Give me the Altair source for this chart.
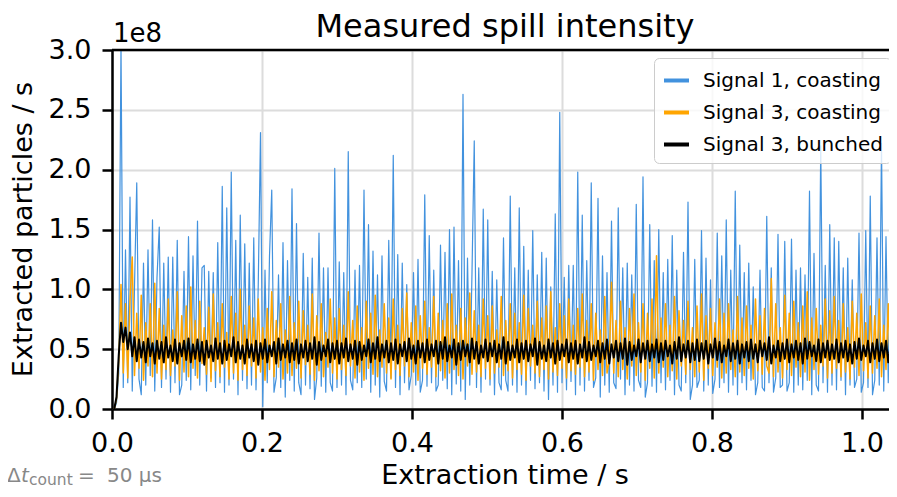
import altair as alt
import numpy as np
import pandas as pd

# ---------------- data ----------------
NAMES = ["Signal 1, coasting", "Signal 3, coasting", "Signal 3, bunched"]
COLORS = ["#4292DE", "#FFA500", "#000000"]
X_TICKS = [0.0, 0.2, 0.4, 0.6, 0.8, 1.0]
Y_TICKS = [0.0, 0.5, 1.0, 1.5, 2.0, 2.5, 3.0]
X_MAX = 1.036           # s, right edge of the visible axis
T_STEP = 0.003          # s, spacing of the digitised points
# values in units of 1e6 particles / s
BLUE = [
    0, 5, 30, 305, 18, 133, 22, 177, 15, 102, 189, 25, 12, 122, 20, 133, 28, 158, 15, 110,
    152, 18, 122, 25, 127, 14, 127, 22, 141, 12, 20, 115, 24, 144, 16, 128, 28, 157, 20, 118,
    120, 15, 115, 26, 114, 18, 139, 22, 186, 14, 168, 20, 198, 25, 141, 12, 162, 24, 138, 17,
    122, 20, 143, 16, 104, 231, 2, 116, 22, 128, 183, 14, 26, 112, 18, 139, 10, 124, 24, 184,
    15, 155, 22, 12, 130, 20, 110, 17, 126, 8, 26, 147, 19, 118, 14, 118, 22, 15, 201, 18,
    123, 20, 114, 12, 215, 24, 16, 116, 22, 120, 18, 183, 25, 154, 14, 132, 20, 112, 10, 128,
    23, 15, 141, 26, 212, 18, 129, 12, 122, 22, 104, 16, 28, 114, 20, 125, 14, 24, 179, 19,
    145, 22, 116, 15, 20, 137, 24, 131, 17, 150, 12, 152, 21, 124, 15, 263, 8, 126, 20, 114,
    224, 18, 118, 14, 167, 25, 158, 20, 115, 12, 108, 22, 16, 143, 24, 15, 178, 20, 118, 14,
    168, 20, 136, 12, 116, 24, 149, 17, 112, 22, 131, 15, 126, 8, 102, 20, 163, 14, 248, 22,
    110, 16, 120, 23, 120, 12, 198, 20, 162, 15, 124, 24, 189, 18, 26, 176, 10, 128, 20, 114,
    14, 157, 22, 17, 168, 25, 118, 12, 122, 20, 112, 15, 171, 24, 18, 194, 10, 22, 154, 19,
    124, 14, 150, 22, 114, 16, 125, 24, 145, 12, 116, 20, 15, 131, 22, 173, 8, 20, 125, 18,
    24, 149, 15, 126, 20, 108, 13, 25, 147, 18, 128, 22, 158, 14, 116, 20, 182, 12, 137, 22,
    114, 16, 122, 24, 102, 12, 22, 116, 18, 15, 161, 22, 118, 14, 26, 146, 18, 20, 140, 15,
    22, 142, 14, 116, 20, 118, 16, 112, 24, 182, 12, 130, 20, 15, 220, 22, 120, 14, 154, 20,
    143, 16, 140, 24, 118, 12, 126, 20, 108, 18, 25, 147, 14, 22, 149, 18, 178, 12, 24, 143,
    20, 222, 15, 144, 22, 124, 14, 114, 25,
]
ORANGE = [
    0, 8, 40, 104, 30, 88, 26, 92, 127, 28, 80, 34, 95, 24, 72, 36, 88, 27, 105, 30,
    84, 25, 70, 33, 92, 28, 66, 36, 98, 24, 78, 31, 86, 27, 102, 34, 74, 26, 90, 38,
    68, 29, 85, 23, 96, 32, 72, 27, 88, 35, 64, 25, 94, 30, 80, 24, 100, 33, 70, 28,
    86, 36, 76, 26, 92, 31, 68, 24, 84, 33, 98, 27, 74, 35, 88, 25, 66, 30, 94, 28,
    72, 34, 90, 26, 82, 37, 70, 29, 96, 24, 78, 32, 88, 27, 64, 35, 92, 30, 76, 25,
    84, 33, 70, 28, 98, 36, 74, 26, 86, 31, 68, 24, 90, 34, 80, 29, 95, 27, 66, 35,
    88, 30, 76, 25, 92, 33, 70, 28, 84, 36, 97, 27, 72, 31, 86, 24, 78, 34, 90, 29,
    68, 35, 94, 27, 80, 32, 74, 26, 88, 30, 96, 33, 70, 28, 84, 25, 76, 36, 97, 29,
    82, 31, 70, 27, 92, 34, 78, 25, 86, 30, 66, 35, 94, 28, 74, 32, 88, 26, 80, 33,
    72, 29, 95, 24, 84, 36, 70, 30, 90, 27, 76, 33, 86, 25, 98, 31, 68, 28, 88, 34,
    78, 26, 92, 32, 70, 29, 84, 35, 96, 27, 74, 31, 88, 24, 80, 33, 66, 28, 94, 30,
    40, 106, 30, 74, 27, 90, 33, 68, 25, 84, 36, 96, 28, 72, 31, 88, 24, 80, 34, 92,
    26, 128, 30, 76, 35, 88, 27, 70, 32, 94, 25, 82, 36, 74, 29, 90, 33, 68, 27, 86,
    31, 96, 24, 78, 34, 84, 28, 72, 35, 92, 26, 80, 30, 88, 33, 66, 27, 94, 31, 76,
    28, 86, 34, 70, 25, 92, 32, 78, 29, 84, 36, 30, 109, 27, 88, 31, 68, 26, 95, 33,
    80, 28, 90, 35, 72, 27, 86, 31, 98, 24, 76, 33, 84, 29, 70, 36, 92, 26, 82, 30,
    94, 34, 74, 27, 88, 31, 68, 25, 90, 35, 80, 28, 96, 32, 72, 26, 86, 30, 78, 34,
    92, 27, 70, 33, 88, 29, 76, 35, 84,
]
BLACK = [
    0, 10, 45, 72, 56, 68, 50, 64, 44, 60, 40, 58, 43, 56, 39, 59, 44, 55, 38, 57,
    42, 56, 39, 60, 43, 53, 40, 58, 38, 55, 44, 57, 41, 59, 39, 54, 42, 58, 40, 56,
    37, 57, 43, 53, 40, 59, 42, 55, 38, 57, 41, 54, 44, 60, 39, 56, 42, 53, 38, 58,
    43, 54, 40, 57, 37, 55, 42, 58, 39, 53, 44, 56, 38, 59, 41, 54, 43, 57, 39, 55,
    41, 58, 38, 54, 43, 57, 40, 55, 42, 60, 37, 56, 41, 53, 44, 58, 39, 55, 42, 57,
    38, 55, 43, 59, 40, 54, 42, 57, 37, 56, 41, 53, 44, 58, 39, 55, 42, 60, 40, 54,
    43, 57, 39, 55, 41, 58, 38, 54, 44, 56, 40, 59, 42, 53, 38, 57, 43, 55, 39, 58,
    41, 54, 44, 57, 38, 56, 42, 60, 40, 53, 43, 58, 37, 55, 41, 57, 44, 54, 39, 59,
    42, 56, 38, 53, 43, 58, 40, 55, 44, 57, 39, 54, 42, 60, 38, 56, 41, 53, 43, 58,
    39, 55, 42, 57, 40, 54, 44, 59, 37, 56, 42, 53, 40, 58, 43, 55, 38, 57, 41, 54,
    44, 58, 39, 55, 42, 57, 38, 54, 43, 60, 40, 56, 41, 53, 44, 57, 39, 55, 42, 58,
    38, 54, 43, 57, 40, 55, 42, 59, 37, 56, 41, 53, 44, 58, 39, 55, 42, 57, 40, 54,
    43, 58, 39, 55, 41, 57, 44, 53, 38, 56, 42, 60, 40, 54, 43, 57, 39, 55, 41, 58,
    40, 55, 42, 57, 38, 54, 43, 59, 41, 56, 39, 53, 44, 58, 40, 55, 42, 57, 38, 54,
    43, 56, 40, 58, 42, 54, 39, 57, 44, 55, 41, 60, 38, 53, 43, 57, 40, 55, 42, 58,
    39, 54, 43, 57, 41, 55, 38, 59, 42, 56, 44, 53, 40, 58, 39, 55, 43, 57, 41, 54,
    42, 58, 39, 55, 43, 57, 40, 54, 38, 56, 42, 59, 41, 53, 44, 57, 39, 55, 42, 58,
    40, 55, 43, 57, 39, 54, 42, 56, 41,
]

TITLE = "Measured spill intensity"
X_TITLE = "Extraction time / s"
Y_TITLE = "Extracted particles / s"
OFFSET_TEXT = "1e8"

# ---------------- chart ----------------
W, H = 777, 359
FONT = "DejaVu Sans"
GREY = "#888888"


def frame(vals, name):
    t = T_STEP * (np.arange(len(vals)) + 1)
    return pd.DataFrame({"t": t, "v": np.asarray(vals) / 100.0, "series": name})


legend = alt.Legend(
    title=None, orient="none", legendX=542, legendY=8,
    symbolType="stroke", symbolStrokeWidth=4, symbolSize=625,
    labelFontSize=20, labelFont=FONT, labelColor="black", labelOffset=12,
    labelLimit=400, padding=8, rowPadding=7,
    strokeColor="#cccccc", fillColor="rgba(255,255,255,0.8)", cornerRadius=5,
)

x_enc = alt.X("t:Q", scale=alt.Scale(domain=[0, X_MAX], nice=False, zero=False),
              axis=alt.Axis(values=X_TICKS, format=".1f", title=None, labelFlush=False))
y_enc = alt.Y("v:Q", scale=alt.Scale(domain=[0, 3], nice=False),
              axis=alt.Axis(values=Y_TICKS, format=".1f", title=None))
c_enc = alt.Color("series:N", scale=alt.Scale(domain=NAMES, range=COLORS), legend=legend)


def series_layer(vals, name, sw):
    return alt.Chart(frame(vals, name)).mark_line(
        strokeWidth=sw, clip=True, strokeJoin="round"
    ).encode(x=x_enc, y=y_enc, color=c_enc)


blue = series_layer(BLUE, NAMES[0], 1.2)
orange = series_layer(ORANGE, NAMES[1], 1.5)
black = series_layer(BLACK, NAMES[2], 2.0)

spine = alt.Chart(pd.DataFrame({"a": [0]})).mark_rule(color="black", strokeWidth=2.5).encode(
    x=alt.value(0), x2=alt.value(W), y=alt.value(0))


def text(s, x, y, size, color="black", **kw):
    return alt.Chart(pd.DataFrame({"s": [s]})).mark_text(
        font=FONT, fontSize=size, color=color, **kw
    ).encode(x=alt.value(x), y=alt.value(y), text="s:N")


texts = [
    text(TITLE, 393, -13, 32, align="center", baseline="alphabetic"),
    text(OFFSET_TEXT, 1, -8, 26, align="left", baseline="alphabetic"),
    text(X_TITLE, 393, 434, 27, align="center", baseline="alphabetic"),
    text(Y_TITLE, -80, H / 2, 27, align="center", baseline="alphabetic", angle=270),
    text("Δ", -105, 432, 20, color=GREY, align="left", baseline="alphabetic"),
    text("t", -91, 432, 20, color=GREY, align="left", baseline="alphabetic", fontStyle="italic"),
    text("count", -83, 435, 15.5, color=GREY, align="left", baseline="alphabetic"),
    text("=", -34, 432, 20, color=GREY, align="left", baseline="alphabetic"),
    text("50 μs", -5, 432, 20, color=GREY, align="left", baseline="alphabetic"),
]

chart = alt.layer(blue, orange, black, spine, *texts).properties(
    width=W, height=H,
    padding={"left": 104, "top": 42, "right": 0, "bottom": 80},
    autosize=alt.AutoSizeParams(type="none"),
).configure_view(stroke=None).configure_axis(
    labelFont=FONT, labelFontSize=27, labelColor="black", labelPadding=11,
    tickSize=10, tickWidth=2.5, tickColor="black",
    domainWidth=2.5, domainColor="black",
    gridColor="#dcdcdc", gridWidth=2,
)

chart.save("out.html", embed_options={"renderer": "svg", "actions": False})
